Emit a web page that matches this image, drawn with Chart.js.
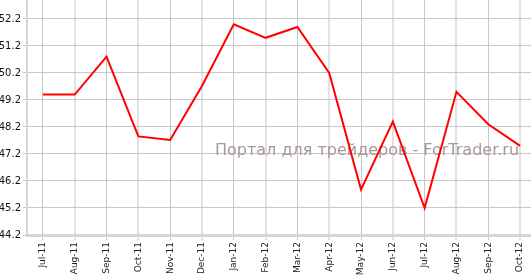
<!DOCTYPE html>
<html lang="ru">
<head>
    <meta charset="UTF-8">
    <title>Chart</title>
    <script src="https://cdn.jsdelivr.net/npm/chart.js"></script>
    <style>
        body { margin: 0; overflow: hidden; background: #fff; }
        /* холст чуть больше окна: верхний отступ Chart.js уходит за край */
        #wrap { width: 536px; height: 278px; overflow: hidden; }
        #chart { margin-top: -8px; display: block; }
    </style>
</head>
<body>
    <div id="wrap"><canvas id="chart" width="536" height="286"></canvas></div>

    <script>
        // Месяцы
        const months = ['Jul-11', 'Aug-11', 'Sep-11', 'Oct-11', 'Nov-11', 'Dec-11', 'Jan-12', 'Feb-12',
            'Mar-12', 'Apr-12', 'May-12', 'Jun-12', 'Jul-12', 'Aug-12', 'Sep-12', 'Oct-12'];

        // Значения индекса
        const values = [49.4, 49.4, 50.8, 47.85, 47.72, 49.72, 52.0, 51.5,
            51.9, 50.2, 45.88, 48.4, 45.2, 49.5, 48.3, 47.5];

        // Деления оси Y
        const yTicks = [44.2, 45.2, 46.2, 47.2, 48.2, 49.2, 50.2, 51.2, 52.2];

        const watermark = 'Портал для трейдеров - ForTrader.ru';

        // Подпись-водяной знак под линией
        const watermarkPlugin = {
            id: 'watermark',
            beforeDatasetsDraw(chart) {
                const ctx = chart.ctx;
                ctx.save();
                ctx.font = '16px "DejaVu Sans"';
                ctx.fillStyle = '#a89999';
                ctx.textBaseline = 'alphabetic';
                ctx.fillText(watermark, 215, 163);
                ctx.restore();
            }
        };

        new Chart(document.getElementById('chart').getContext('2d'), {
            type: 'line',
            data: {
                labels: months,
                datasets: [{
                    data: values,
                    borderColor: '#ff0000',
                    borderWidth: 2,
                    pointRadius: 0,
                    tension: 0,
                    fill: false
                }]
            },
            options: {
                responsive: false,
                animation: false,
                layout: { padding: 0 },
                plugins: {
                    legend: { display: false },
                    tooltip: { enabled: false }
                },
                scales: {
                    x: {
                        offset: true,
                        grid: {
                            offset: false,
                            color: (c) => (c.index % 2 ? '#e2e2e2' : '#c8c8c8'),
                            lineWidth: (c) => (c.index % 2 ? 2 : 1),
                            tickLength: 5
                        },
                        border: { color: '#d6d6d6', width: 3 },
                        ticks: {
                            autoSkip: false,
                            maxRotation: 90,
                            minRotation: 90,
                            padding: 2,
                            color: '#222',
                            font: { family: 'DejaVu Sans', size: 9 }
                        },
                        afterFit: (s) => { s.height = 43; }
                    },
                    y: {
                        min: 44.2,
                        max: 52.9,
                        afterBuildTicks: (s) => { s.ticks = yTicks.map(v => ({ value: v })); },
                        grid: { color: '#c8c8c8', lineWidth: 1, tickLength: 4 },
                        border: { color: '#d6d6d6', width: 2 },
                        ticks: {
                            padding: 2,
                            color: '#111',
                            font: { family: 'DejaVu Sans', size: 10 },
                            callback: (v) => v.toFixed(1)
                        },
                        afterFit: (s) => { s.width = 27; }
                    }
                }
            },
            plugins: [watermarkPlugin]
        });
    </script>
</body>
</html>
